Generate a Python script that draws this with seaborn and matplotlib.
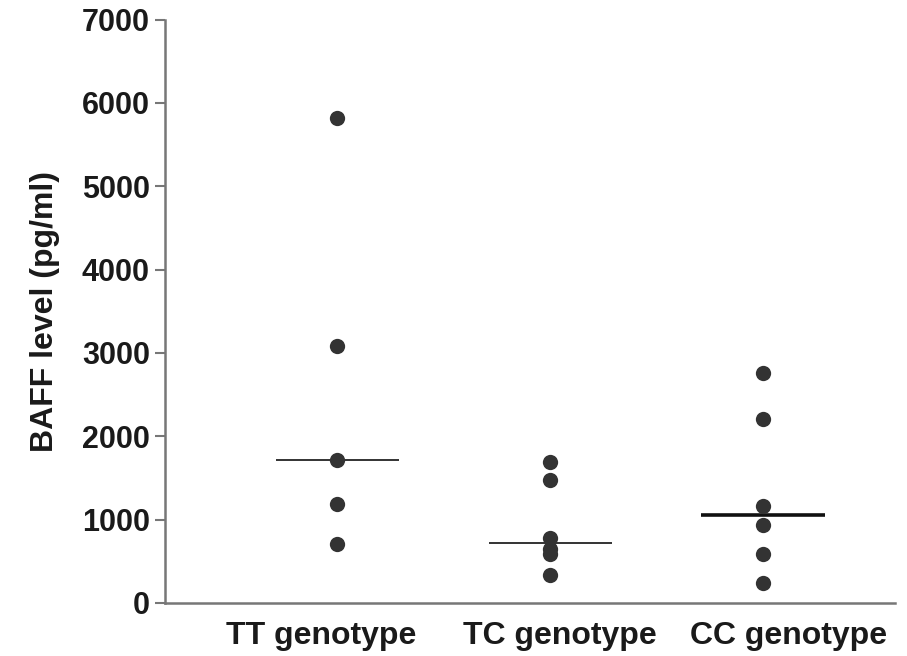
import numpy as np
import pandas as pd
import matplotlib
matplotlib.use("Agg")
import matplotlib.pyplot as plt
import seaborn as sns

categories = ["TT genotype", "TC genotype", "CC genotype"]
tt_values = [5820, 3080, 1720, 1190, 710]
tc_values = [1690, 1470, 780, 650, 590, 340]
cc_values = [2760, 2210, 1160, 940, 590, 240]
y_ticks = [0, 1000, 2000, 3000, 4000, 5000, 6000, 7000]

df = pd.DataFrame({
    "genotype": [categories[0]] * len(tt_values) + [categories[1]] * len(tc_values) + [categories[2]] * len(cc_values),
    "value": tt_values + tc_values + cc_values,
})

sns.set_style("white")
plt.rcParams["font.family"] = ["Liberation Sans", "DejaVu Sans"]

fig = plt.figure(figsize=(9.07, 6.56), dpi=100)
ax = fig.add_axes([0.182, 0.081, 0.805, 0.889])

sns.stripplot(data=df, x="genotype", y="value", order=categories, jitter=False,
              color="#333333", size=11, marker="o", linewidth=0, ax=ax, zorder=3)

medians = [np.median(v) for v in (tt_values, tc_values, cc_values)]
widths = [1.2, 1.2, 2.6]
for i, (m, w) in enumerate(zip(medians, widths)):
    ax.hlines(m, i - 0.29, i + 0.29, color="#111111", linewidth=w, zorder=2)

ax.set_xlim(-0.81, 2.62)
ax.set_ylim(0, 7000)
ax.set_yticks(y_ticks)
ax.set_yticklabels([str(t) for t in y_ticks], fontsize=22, fontweight="bold", color="#1a1a1a")
label_offsets = [-0.075, 0.047, 0.12]
ax.set_xticks([i + o for i, o in enumerate(label_offsets)])
ax.set_xticklabels(categories, fontsize=23, fontweight="bold", color="#1a1a1a")
ax.set_xlabel("")
ax.set_ylabel("BAFF level (pg/ml)", fontsize=23, fontweight="bold", color="#1a1a1a", labelpad=16)

for s in ["top", "right"]:
    ax.spines[s].set_visible(False)
for s in ["left", "bottom"]:
    ax.spines[s].set_color("#777777")
    ax.spines[s].set_linewidth(1.8)

ax.tick_params(axis="y", direction="out", length=7, width=1.5, color="#777777", left=True, pad=4)
ax.tick_params(axis="x", length=0, pad=13)

fig.savefig("out.png", dpi=100, facecolor="white")
